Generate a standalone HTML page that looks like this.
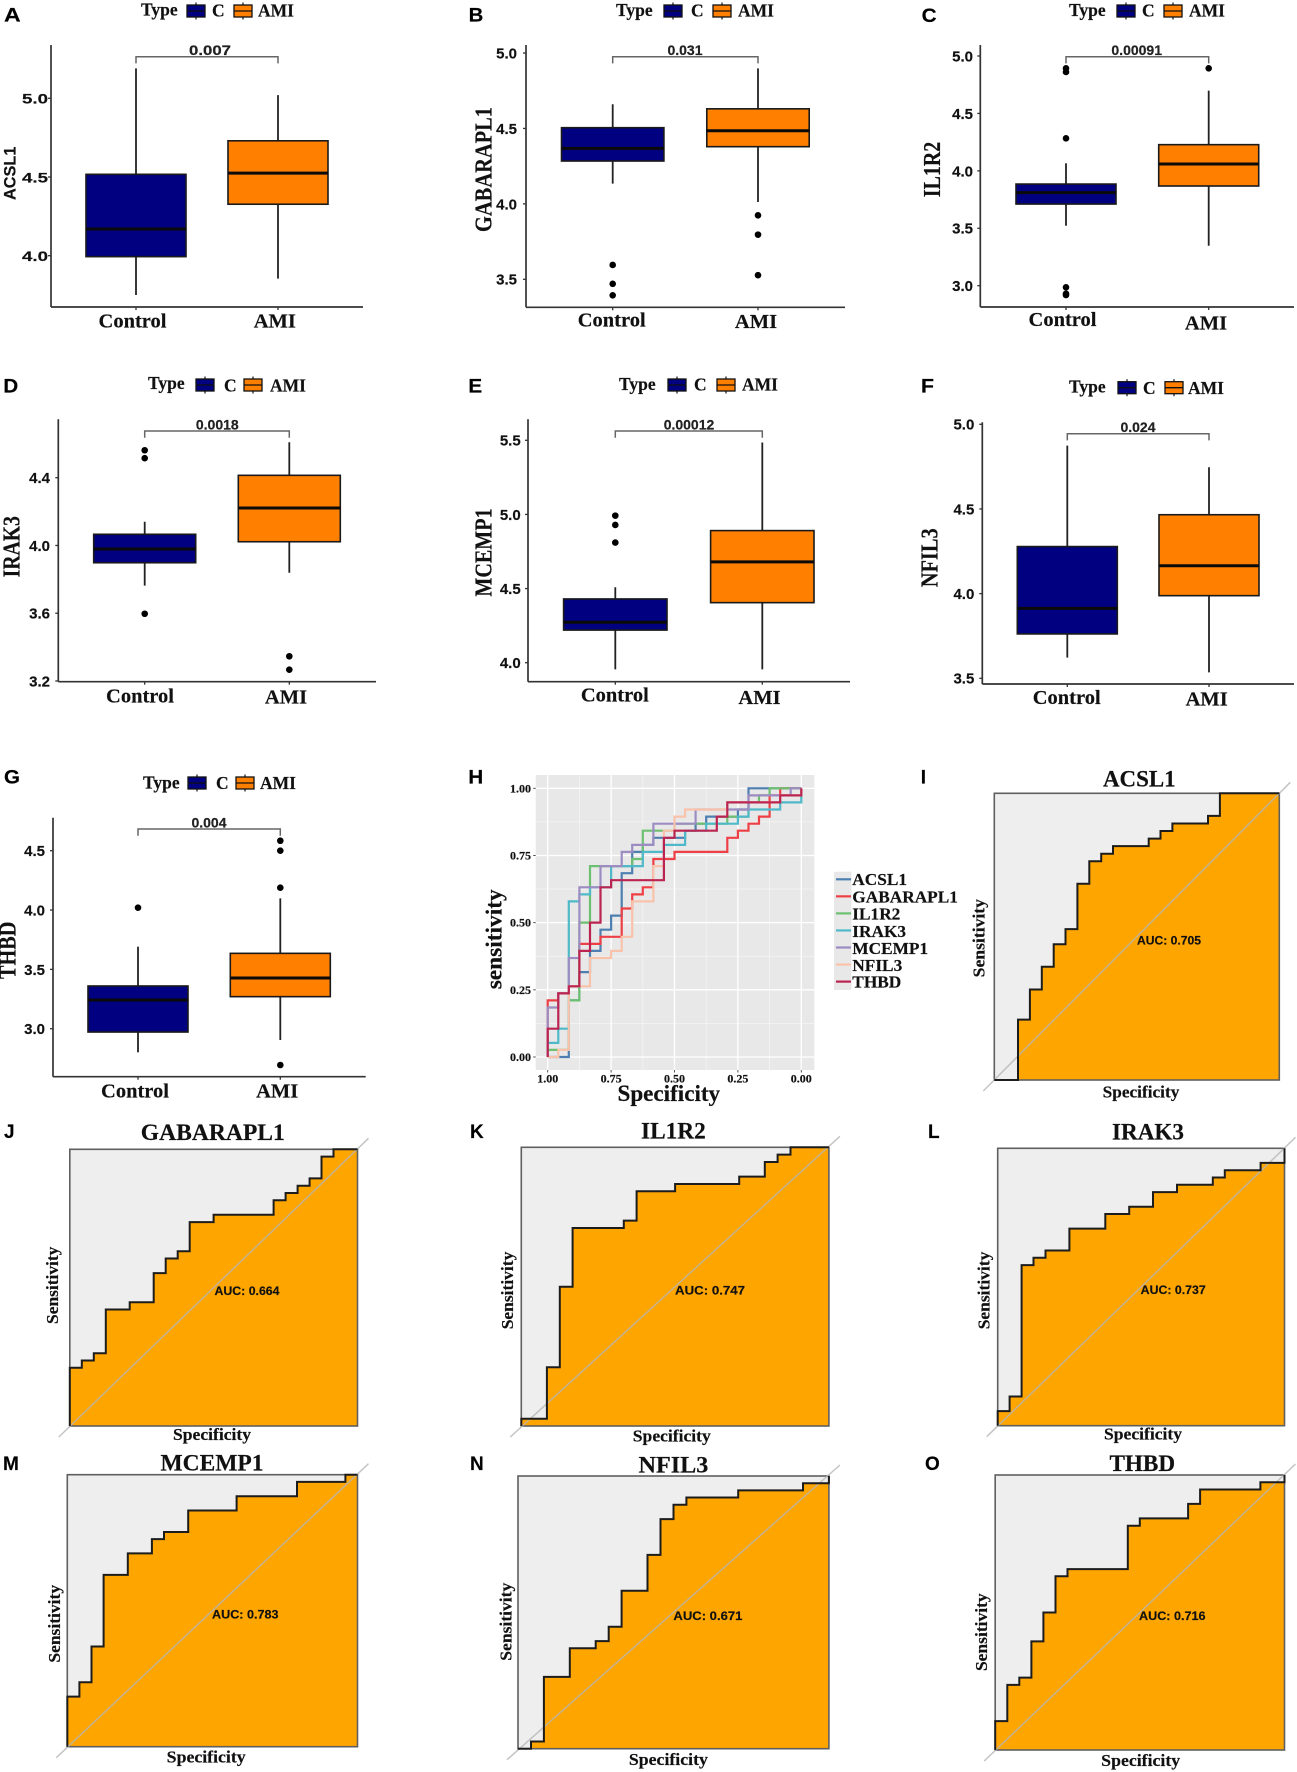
<!DOCTYPE html>
<html lang="en">
<head>
<meta charset="utf-8">
<title>Box plots and ROC curves for seven genes</title>
<style>
html,body{margin:0;padding:0;background:#fff;}
svg{display:block;}
text{fill:#111;stroke:#111;stroke-width:.18px;}
.sb{font-family:"Liberation Serif",serif;font-weight:700;}
.ab{font-family:"Liberation Sans",sans-serif;font-weight:700;}
.letter{font-size:19px;fill:#000;}
.lg{font-size:17.5px;}
.cat{font-size:20.5px;}
.yt{font-size:24px;text-anchor:middle;}
.pv{font-size:14px;text-anchor:middle;fill:#222;}
.cat{text-anchor:middle;}
.rt{font-size:23px;text-anchor:middle;}
.ra{font-size:17.3px;text-anchor:middle;}
.auc{font-size:12px;}
.hl{font-size:17.3px;}
</style>
</head>
<body>
<svg id="figure" width="1297" height="1772" viewBox="0 0 1297 1772">
<defs>
<g id="key-c"><line x1="9" y1="-8.5" x2="9" y2="8.5" stroke="#111" stroke-width="1.2"/><rect x="0" y="-6" width="18" height="12" fill="#000080" stroke="#111" stroke-width="1.3"/><line x1="0" y1="0" x2="18" y2="0" stroke="#111" stroke-width="1.3"/></g>
<g id="key-ami"><line x1="9" y1="-8.5" x2="9" y2="8.5" stroke="#111" stroke-width="1.2"/><rect x="0" y="-6" width="18" height="12" fill="#ff7f00" stroke="#111" stroke-width="1.3"/><line x1="0" y1="0" x2="18" y2="0" stroke="#111" stroke-width="1.3"/></g>
</defs>
<rect x="0" y="0" width="1297" height="1772" fill="#fff"/>
<g id="marks"></g>

<g>
<text class="ab letter" x="4" y="21.7" textLength="16.7" lengthAdjust="spacingAndGlyphs">A</text>
<text class="ab letter" x="468.7" y="21.7" textLength="14.7" lengthAdjust="spacingAndGlyphs">B</text>
<text class="ab letter" x="921.7" y="22" textLength="15" lengthAdjust="spacingAndGlyphs">C</text>
<text class="ab letter" x="3.3" y="392.3" textLength="15" lengthAdjust="spacingAndGlyphs">D</text>
<text class="ab letter" x="468.3" y="392.3" textLength="14" lengthAdjust="spacingAndGlyphs">E</text>
<text class="ab letter" x="921" y="392.7" textLength="13" lengthAdjust="spacingAndGlyphs">F</text>
<text class="ab letter" x="4" y="783.3" textLength="16" lengthAdjust="spacingAndGlyphs">G</text>
<text class="ab letter" x="468.3" y="783.3" textLength="15" lengthAdjust="spacingAndGlyphs">H</text>
<text class="ab letter" x="920.7" y="783.3">I</text>
<text class="ab letter" x="4" y="1138">J</text>
<text class="ab letter" x="470" y="1138">K</text>
<text class="ab letter" x="928" y="1138">L</text>
<text class="ab letter" x="3" y="1470">M</text>
<text class="ab letter" x="470" y="1470">N</text>
<text class="ab letter" x="925" y="1470">O</text>
</g>

<g>
<text class="sb lg" x="141" y="15.5">Type</text>
<use href="#key-c" x="187" y="11"/>
<text class="sb lg" x="212" y="16.5">C</text>
<use href="#key-ami" x="234" y="11"/>
<text class="sb lg" x="258" y="16.5">AMI</text>
</g>
<g>
<text class="sb lg" x="616" y="16">Type</text>
<use href="#key-c" x="664" y="11"/>
<text class="sb lg" x="691" y="16.5">C</text>
<use href="#key-ami" x="713" y="11"/>
<text class="sb lg" x="738" y="16.5">AMI</text>
</g>
<g>
<text class="sb lg" x="1069" y="16">Type</text>
<use href="#key-c" x="1117" y="11"/>
<text class="sb lg" x="1142" y="16.5">C</text>
<use href="#key-ami" x="1164" y="11"/>
<text class="sb lg" x="1189" y="16.5">AMI</text>
</g>
<g>
<text class="sb lg" x="148" y="389">Type</text>
<use href="#key-c" x="196" y="385"/>
<text class="sb lg" x="224" y="391.5">C</text>
<use href="#key-ami" x="244" y="385"/>
<text class="sb lg" x="270" y="391.5">AMI</text>
</g>
<g>
<text class="sb lg" x="619" y="390">Type</text>
<use href="#key-c" x="668" y="385"/>
<text class="sb lg" x="694" y="390.7">C</text>
<use href="#key-ami" x="717" y="385"/>
<text class="sb lg" x="742" y="390.7">AMI</text>
</g>
<g>
<text class="sb lg" x="1069" y="392.7">Type</text>
<use href="#key-c" x="1118" y="387.7"/>
<text class="sb lg" x="1143" y="394">C</text>
<use href="#key-ami" x="1165" y="387.7"/>
<text class="sb lg" x="1188" y="394">AMI</text>
</g>
<g>
<text class="sb lg" x="143" y="788.7">Type</text>
<use href="#key-c" x="188" y="783"/>
<text class="sb lg" x="216" y="789">C</text>
<use href="#key-ami" x="236" y="783"/>
<text class="sb lg" x="260" y="789">AMI</text>
</g>

<g>
<text class="ab" style="font-size:17px;text-anchor:middle" transform="translate(15.7,173.3) rotate(-90)" textLength="53.3" lengthAdjust="spacingAndGlyphs">ACSL1</text>
<text class="sb yt" transform="translate(491.7,169.5) rotate(-90)" textLength="125" lengthAdjust="spacingAndGlyphs">GABARAPL1</text>
<text class="sb yt" transform="translate(940,169.5) rotate(-90)" textLength="55.6" lengthAdjust="spacingAndGlyphs">IL1R2</text>
<text class="sb yt" transform="translate(19.3,546.7) rotate(-90)" textLength="61.3" lengthAdjust="spacingAndGlyphs">IRAK3</text>
<text class="sb yt" transform="translate(491.7,552.5) rotate(-90)" textLength="88.3" lengthAdjust="spacingAndGlyphs">MCEMP1</text>
<text class="sb yt" transform="translate(937.7,557.8) rotate(-90)" textLength="59" lengthAdjust="spacingAndGlyphs">NFIL3</text>
<text class="sb yt" transform="translate(15.7,950.3) rotate(-90)" textLength="57.3" lengthAdjust="spacingAndGlyphs">THBD</text>
</g>

<g>
<text class="sb cat" x="132.5" y="327.7">Control</text>
<text class="sb cat" x="274.8" y="327.7">AMI</text>
<text class="sb cat" x="611.7" y="326.7">Control</text>
<text class="sb cat" x="756" y="328">AMI</text>
<text class="sb cat" x="1062.5" y="326">Control</text>
<text class="sb cat" x="1206" y="329.3">AMI</text>
<text class="sb cat" x="140" y="702.3">Control</text>
<text class="sb cat" x="286" y="703.3">AMI</text>
<text class="sb cat" x="614.8" y="701.7">Control</text>
<text class="sb cat" x="759.5" y="704">AMI</text>
<text class="sb cat" x="1066.7" y="704">Control</text>
<text class="sb cat" x="1206.7" y="705.7">AMI</text>
<text class="sb cat" x="135" y="1097.3">Control</text>
<text class="sb cat" x="277.2" y="1097.7">AMI</text>
</g>

<g>
<text class="ab pv" x="210" y="55" textLength="42" lengthAdjust="spacingAndGlyphs">0.007</text>
<text class="ab pv" x="685" y="55">0.031</text>
<text class="ab pv" x="1136.7" y="55">0.00091</text>
<text class="ab pv" x="217.3" y="429.3">0.0018</text>
<text class="ab pv" x="689" y="429.3">0.00012</text>
<text class="ab pv" x="1138" y="432">0.024</text>
<text class="ab pv" x="209" y="827.7">0.004</text>
</g>

<g>
<text class="sb" style="font-size:23.5px;text-anchor:middle" transform="translate(501.7,939.3) rotate(-90)" textLength="100" lengthAdjust="spacingAndGlyphs">sensitivity</text>
<text class="sb" style="font-size:23px;text-anchor:middle" x="668.8" y="1101" textLength="102.6" lengthAdjust="spacingAndGlyphs">Specificity</text>
<text class="sb hl" x="852.3" y="885">ACSL1</text>
<text class="sb hl" x="852.3" y="902.5">GABARAPL1</text>
<text class="sb hl" x="852.3" y="919.5">IL1R2</text>
<text class="sb hl" x="852.3" y="937">IRAK3</text>
<text class="sb hl" x="852.3" y="954">MCEMP1</text>
<text class="sb hl" x="852.3" y="971">NFIL3</text>
<text class="sb hl" x="852.3" y="987.5">THBD</text>
</g>

<g>
<text class="sb rt" x="1139.3" y="786.7" textLength="72.7" lengthAdjust="spacingAndGlyphs">ACSL1</text>
<text class="sb rt" x="212.8" y="1140" textLength="144" lengthAdjust="spacingAndGlyphs">GABARAPL1</text>
<text class="sb rt" x="673.4" y="1138.3" textLength="64.8" lengthAdjust="spacingAndGlyphs">IL1R2</text>
<text class="sb rt" x="1148" y="1139.3" textLength="72" lengthAdjust="spacingAndGlyphs">IRAK3</text>
<text class="sb rt" x="212" y="1470.7" textLength="103" lengthAdjust="spacingAndGlyphs">MCEMP1</text>
<text class="sb rt" x="673.4" y="1472.7" textLength="69.8" lengthAdjust="spacingAndGlyphs">NFIL3</text>
<text class="sb rt" x="1142.3" y="1471" textLength="65.7" lengthAdjust="spacingAndGlyphs">THBD</text>

<text class="sb ra" transform="translate(984.3,938.2) rotate(-90)" textLength="78.3" lengthAdjust="spacingAndGlyphs">Sensitivity</text>
<text class="sb ra" transform="translate(58.2,1285.3) rotate(-90)" textLength="77.3" lengthAdjust="spacingAndGlyphs">Sensitivity</text>
<text class="sb ra" transform="translate(513,1290.5) rotate(-90)" textLength="77.6" lengthAdjust="spacingAndGlyphs">Sensitivity</text>
<text class="sb ra" transform="translate(989.4,1290.5) rotate(-90)" textLength="77.6" lengthAdjust="spacingAndGlyphs">Sensitivity</text>
<text class="sb ra" transform="translate(59.9,1623.8) rotate(-90)" textLength="77.7" lengthAdjust="spacingAndGlyphs">Sensitivity</text>
<text class="sb ra" transform="translate(511.3,1621.7) rotate(-90)" textLength="78" lengthAdjust="spacingAndGlyphs">Sensitivity</text>
<text class="sb ra" transform="translate(986.9,1632.2) rotate(-90)" textLength="77.7" lengthAdjust="spacingAndGlyphs">Sensitivity</text>

<text class="sb ra" x="1141" y="1097.3" textLength="76.7" lengthAdjust="spacingAndGlyphs">Specificity</text>
<text class="sb ra" x="212" y="1440" textLength="78" lengthAdjust="spacingAndGlyphs">Specificity</text>
<text class="sb ra" x="671.8" y="1441.7" textLength="78" lengthAdjust="spacingAndGlyphs">Specificity</text>
<text class="sb ra" x="1143" y="1439.3" textLength="78" lengthAdjust="spacingAndGlyphs">Specificity</text>
<text class="sb ra" x="206.2" y="1762.7" textLength="79" lengthAdjust="spacingAndGlyphs">Specificity</text>
<text class="sb ra" x="668.4" y="1765" textLength="79" lengthAdjust="spacingAndGlyphs">Specificity</text>
<text class="sb ra" x="1140.7" y="1766" textLength="79" lengthAdjust="spacingAndGlyphs">Specificity</text>

<text class="ab auc" x="1137" y="944.3" textLength="64" lengthAdjust="spacingAndGlyphs">AUC: 0.705</text>
<text class="ab auc" x="214.5" y="1295" textLength="65" lengthAdjust="spacingAndGlyphs">AUC: 0.664</text>
<text class="ab auc" x="675" y="1294.3" textLength="70" lengthAdjust="spacingAndGlyphs">AUC: 0.747</text>
<text class="ab auc" x="1140.7" y="1294" textLength="65" lengthAdjust="spacingAndGlyphs">AUC: 0.737</text>
<text class="ab auc" x="212" y="1618.3" textLength="66.5" lengthAdjust="spacingAndGlyphs">AUC: 0.783</text>
<text class="ab auc" x="673.4" y="1620" textLength="69" lengthAdjust="spacingAndGlyphs">AUC: 0.671</text>
<text class="ab auc" x="1139" y="1620" textLength="66.5" lengthAdjust="spacingAndGlyphs">AUC: 0.716</text>
</g>
</svg>

<script>
/* ---------- box plot data: [low whisker, Q1, median, Q3, high whisker] ---------- */
const categories = ['Control', 'AMI'];

const acsl1Control = [3.75, 3.994, 4.17, 4.517, 5.19];
const acsl1Ami = [3.854, 4.327, 4.525, 4.73, 5.02];
const acsl1ControlOutliers = [];
const acsl1AmiOutliers = [];
const acsl1Ticks = [4.0, 4.5, 5.0];

const gabarapl1Control = [4.134, 4.284, 4.368, 4.505, 4.66];
const gabarapl1Ami = [4.012, 4.379, 4.485, 4.63, 4.898];
const gabarapl1ControlOutliers = [3.595, 3.47, 3.394];
const gabarapl1AmiOutliers = [3.924, 3.796, 3.527];
const gabarapl1Ticks = [3.5, 4.0, 4.5, 5.0];

const il1r2Control = [3.522, 3.711, 3.81, 3.885, 4.066];
const il1r2Ami = [3.348, 3.868, 4.06, 4.228, 4.698];
const il1r2ControlOutliers = [4.893, 4.861, 4.283, 2.986, 2.919, 2.93];
const il1r2AmiOutliers = [4.893];
const il1r2Ticks = [3.0, 3.5, 4.0, 4.5, 5.0];

const irak3Control = [3.763, 3.898, 3.979, 4.066, 4.14];
const irak3Ami = [3.839, 4.022, 4.221, 4.414, 4.609];
const irak3ControlOutliers = [4.562, 4.515, 3.597];
const irak3AmiOutliers = [3.346, 3.267];
const irak3Ticks = [3.2, 3.6, 4.0, 4.4];

const mcemp1Control = [3.955, 4.22, 4.273, 4.43, 4.509];
const mcemp1Ami = [3.955, 4.405, 4.68, 4.891, 5.485];
const mcemp1ControlOutliers = [4.992, 4.929, 4.81];
const mcemp1AmiOutliers = [];
const mcemp1Ticks = [4.0, 4.5, 5.0, 5.5];

const nfil3Control = [3.622, 3.762, 3.913, 4.278, 4.874];
const nfil3Ami = [3.535, 3.988, 4.165, 4.466, 4.746];
const nfil3ControlOutliers = [];
const nfil3AmiOutliers = [];
const nfil3Ticks = [3.5, 4.0, 4.5, 5.0];

const thbdControl = [2.801, 2.972, 3.242, 3.36, 3.691];
const thbdAmi = [2.905, 3.27, 3.427, 3.635, 4.098];
const thbdControlOutliers = [4.02];
const thbdAmiOutliers = [4.584, 4.5, 4.188, 2.694];
const thbdTicks = [3.0, 3.5, 4.0, 4.5];

/* ---------- ROC data: cumulative false positives / true positives at each step ---------- */
const controlCount = 24;
const caseCount = 38;

const acsl1FalsePos = [0, 2, 3, 4, 5, 6, 7, 8, 9, 10, 13, 14, 15, 18, 19, 24];
const acsl1TruePos = [0, 8, 12, 15, 18, 20, 26, 29, 30, 31, 32, 33, 34, 35, 38, 38];

const gabarapl1FalsePos = [0, 0, 1, 2, 3, 5, 7, 8, 9, 10, 12, 17, 18, 19, 20, 21, 22, 24];
const gabarapl1TruePos = [0, 8, 9, 10, 16, 17, 21, 23, 24, 28, 29, 31, 32, 33, 34, 37, 38, 38];

const il1r2FalsePos = [0, 0, 2, 3, 4, 8, 9, 12, 17, 19, 20, 21, 24];
const il1r2TruePos = [0, 1, 8, 19, 27, 28, 32, 33, 34, 36, 37, 38, 38];

const irak3FalsePos = [0, 0, 1, 2, 3, 4, 6, 9, 11, 13, 15, 18, 19, 22, 24];
const irak3TruePos = [0, 2, 4, 22, 23, 24, 27, 29, 30, 32, 33, 34, 35, 36, 38];

const mcemp1FalsePos = [0, 0, 1, 2, 3, 5, 7, 8, 10, 14, 19, 23, 24];
const mcemp1TruePos = [0, 7, 9, 14, 24, 27, 29, 30, 33, 35, 37, 38, 38];

const nfil3FalsePos = [0, 1, 2, 4, 6, 7, 8, 10, 11, 12, 13, 17, 22, 24];
const nfil3TruePos = [0, 1, 10, 14, 15, 17, 22, 27, 32, 34, 35, 36, 37, 38];

const thbdFalsePos = [0, 0, 1, 2, 3, 4, 5, 6, 11, 12, 16, 17, 22, 24];
const thbdTruePos = [0, 4, 9, 10, 15, 19, 24, 25, 31, 32, 34, 36, 37, 38];

const combinedXTicks = [1.00, 0.75, 0.50, 0.25, 0.00];
const combinedYTicks = [0.00, 0.25, 0.50, 0.75, 1.00];

/* ---------- layout ---------- */
const boxPanels = [
  {gene:'acsl1', control:acsl1Control, ami:acsl1Ami, controlOut:acsl1ControlOutliers, amiOut:acsl1AmiOutliers, ticks:acsl1Ticks,
   axX:51, axY:307, axTop:45, axEnd:363, v1:4, py1:255.7, v2:5, py2:98.3, c1:136, c2:278, hw:50, brY:56.7, tickRight:48, tickSize:14, tickLen:26},
  {gene:'gabarapl1', control:gabarapl1Control, ami:gabarapl1Ami, controlOut:gabarapl1ControlOutliers, amiOut:gabarapl1AmiOutliers, ticks:gabarapl1Ticks,
   axX:526, axY:307.3, axTop:45, axEnd:845, v1:3.5, py1:279.3, v2:5, py2:53, c1:612.7, c2:758, hw:51.2, brY:56.7, tickRight:517, tickSize:15},
  {gene:'il1r2', control:il1r2Control, ami:il1r2Ami, controlOut:il1r2ControlOutliers, amiOut:il1r2AmiOutliers, ticks:il1r2Ticks,
   axX:980.3, axY:307, axTop:45, axEnd:1294, v1:3, py1:285.7, v2:5, py2:56, c1:1066, c2:1208.7, hw:50, brY:56.7, tickRight:973, tickSize:15},
  {gene:'irak3', control:irak3Control, ami:irak3Ami, controlOut:irak3ControlOutliers, amiOut:irak3AmiOutliers, ticks:irak3Ticks,
   axX:58.3, axY:681.7, axTop:419.3, axEnd:376, v1:3.2, py1:681, v2:4.4, py2:477.7, c1:144.7, c2:289.3, hw:51, brY:431, tickRight:50, tickSize:15},
  {gene:'mcemp1', control:mcemp1Control, ami:mcemp1Ami, controlOut:mcemp1ControlOutliers, amiOut:mcemp1AmiOutliers, ticks:mcemp1Ticks,
   axX:528, axY:681.7, axTop:419.3, axEnd:850, v1:4, py1:662.7, v2:5.5, py2:440.3, c1:615.3, c2:762.3, hw:51.7, brY:431, tickRight:520.7, tickSize:15},
  {gene:'nfil3', control:nfil3Control, ami:nfil3Ami, controlOut:nfil3ControlOutliers, amiOut:nfil3AmiOutliers, ticks:nfil3Ticks,
   axX:982.3, axY:684, axTop:422.3, axEnd:1294, v1:3.5, py1:678.3, v2:5, py2:424.3, c1:1067.3, c2:1209, hw:50, brY:433.7, tickRight:974.3, tickSize:15},
  {gene:'thbd', control:thbdControl, ami:thbdAmi, controlOut:thbdControlOutliers, amiOut:thbdAmiOutliers, ticks:thbdTicks,
   axX:53, axY:1076.7, axTop:817.7, axEnd:365.7, v1:3, py1:1028.7, v2:4.5, py2:850.7, c1:138, c2:280.3, hw:50, brY:829, tickRight:45, tickSize:15}
];

const rocPanels = [
  {gene:'acsl1', fp:acsl1FalsePos, tp:acsl1TruePos, x0:994.3, x1:1279.3, yt:793.3, yb:1080},
  {gene:'gabarapl1', fp:gabarapl1FalsePos, tp:gabarapl1TruePos, x0:69.8, x1:357.5, yt:1149.3, yb:1426},
  {gene:'il1r2', fp:il1r2FalsePos, tp:il1r2TruePos, x0:521.3, x1:828.9, yt:1147.3, yb:1426},
  {gene:'irak3', fp:irak3FalsePos, tp:irak3TruePos, x0:997.7, x1:1284.5, yt:1148.3, yb:1425.7},
  {gene:'mcemp1', fp:mcemp1FalsePos, tp:mcemp1TruePos, x0:67.3, x1:357.5, yt:1474.7, yb:1746.7},
  {gene:'nfil3', fp:nfil3FalsePos, tp:nfil3TruePos, x0:518, x1:828.9, yt:1476, yb:1748.7},
  {gene:'thbd', fp:thbdFalsePos, tp:thbdTruePos, x0:995.2, x1:1284.5, yt:1475, yb:1750}
];

const combinedCurves = [
  {gene:'acsl1', fp:acsl1FalsePos, tp:acsl1TruePos, color:'#4d7fb0'},
  {gene:'gabarapl1', fp:gabarapl1FalsePos, tp:gabarapl1TruePos, color:'#ee3f45'},
  {gene:'il1r2', fp:il1r2FalsePos, tp:il1r2TruePos, color:'#6cc070'},
  {gene:'irak3', fp:irak3FalsePos, tp:irak3TruePos, color:'#4fb9c9'},
  {gene:'mcemp1', fp:mcemp1FalsePos, tp:mcemp1TruePos, color:'#9c8cc2'},
  {gene:'nfil3', fp:nfil3FalsePos, tp:nfil3TruePos, color:'#f9c2ab'},
  {gene:'thbd', fp:thbdFalsePos, tp:thbdTruePos, color:'#bb2450'}
];

const NS = document.getElementById('figure').namespaceURI;
const marks = document.getElementById('marks');

function mk(tag, attrs, parent) {
  const node = document.createElementNS(NS, tag);
  for (const k in attrs) node.setAttribute(k, attrs[k]);
  parent.appendChild(node);
  return node;
}

/* Expand step data into [specificity, sensitivity] vertices */
function stepVertices(fp, tp) {
  const pts = [[1 - fp[0] / controlCount, tp[0] / caseCount]];
  for (let i = 0; i + 1 < fp.length; i++) {
    pts.push([1 - fp[i + 1] / controlCount, tp[i] / caseCount]);
    pts.push([1 - fp[i + 1] / controlCount, tp[i + 1] / caseCount]);
  }
  return pts;
}

/* ---------- box plots ---------- */
boxPanels.forEach(function (p) {
  const yScale = function (v) { return p.py1 + (v - p.v1) * (p.py2 - p.py1) / (p.v2 - p.v1); };
  const g = mk('g', {}, marks);
  
  

  const yAxis = mk('line', {x1:p.axX, y1:p.axTop, x2:p.axX, y2:p.axY, stroke:'#333', 'stroke-width':1.7}, g);
  
  
  const xAxis = mk('line', {x1:p.axX, y1:p.axY, x2:p.axEnd, y2:p.axY, stroke:'#333', 'stroke-width':1.7}, g);
  
  

  p.ticks.forEach(function (t) {
    const tick = mk('line', {x1:p.axX - 3, y1:yScale(t), x2:p.axX, y2:yScale(t), stroke:'#333', 'stroke-width':1.3}, g);
    
    
    const label = mk('text', {x:p.tickRight, y:yScale(t) + 5.4, 'text-anchor':'end', 'class':'ab'}, g);
    
    
    label.setAttribute('style', 'font-size:' + p.tickSize + 'px');
    if (p.tickLen) {
      label.setAttribute('textLength', p.tickLen);
      label.setAttribute('lengthAdjust', 'spacingAndGlyphs');
    }
    label.textContent = t.toFixed(1);
  });

  const bracket = mk('path', {d:'M' + p.c1 + ' ' + (p.brY + 6.7) + 'V' + p.brY + 'H' + p.c2 + 'V' + (p.brY + 6.7), fill:'none', stroke:'#666', 'stroke-width':1.5}, g);
  
  

  const groups = [
    {name:categories[0], stats:p.control, out:p.controlOut, cx:p.c1, fill:'#000080'},
    {name:categories[1], stats:p.ami, out:p.amiOut, cx:p.c2, fill:'#ff7f00'}
  ];
  groups.forEach(function (b) {
    const xt = mk('line', {x1:b.cx, y1:p.axY, x2:b.cx, y2:p.axY + 3, stroke:'#333', 'stroke-width':1.3}, g);
    
    

    const whisker = mk('line', {x1:b.cx, y1:yScale(b.stats[4]), x2:b.cx, y2:yScale(b.stats[0]), stroke:'#222', 'stroke-width':1.8}, g);
    
    

    const box = mk('rect', {x:b.cx - p.hw, y:yScale(b.stats[3]), width:p.hw * 2, height:yScale(b.stats[1]) - yScale(b.stats[3]), fill:b.fill, stroke:'#1a1a1a', 'stroke-width':1.6}, g);
    
    

    const median = mk('line', {x1:b.cx - p.hw, y1:yScale(b.stats[2]), x2:b.cx + p.hw, y2:yScale(b.stats[2]), stroke:'#0a0a0a', 'stroke-width':3}, g);
    
    

    b.out.forEach(function (v) {
      const dot = mk('circle', {cx:b.cx, cy:yScale(v), r:3.3, fill:'#000'}, g);
      
      
    });
  });
});

/* ---------- combined ROC ---------- */
(function () {
  const xH = function (spec) { return 547.7 + (1 - spec) * 253.6; };
  const yH = function (sens) { return 1057 - sens * 268.7; };
  const g = mk('g', {}, marks);
  
  

  const bg = mk('rect', {x:535.7, y:775, width:278.6, height:295, fill:'#e8e8e8'}, g);
  
  

  combinedXTicks.slice(0, -1).forEach(function (t) {
    const minorX = mk('line', {x1:xH(t - 0.125), y1:775, x2:xH(t - 0.125), y2:1070, stroke:'#f4f4f4', 'stroke-width':0.8}, g);
    
    
  });
  combinedYTicks.slice(0, -1).forEach(function (t) {
    const minorY = mk('line', {x1:535.7, y1:yH(t + 0.125), x2:814.3, y2:yH(t + 0.125), stroke:'#f4f4f4', 'stroke-width':0.8}, g);
    
    
  });
  combinedXTicks.forEach(function (t) {
    const gridX = mk('line', {x1:xH(t), y1:775, x2:xH(t), y2:1070, stroke:'#fff', 'stroke-width':1.3}, g);
    
    
    const tickX = mk('line', {x1:xH(t), y1:1070, x2:xH(t), y2:1072.5, stroke:'#444', 'stroke-width':0.9}, g);
    
    
    const labelX = mk('text', {x:xH(t), y:1082.3, 'text-anchor':'middle', 'class':'sb'}, g);
    
    
    labelX.setAttribute('style', 'font-size:12px');
    labelX.textContent = t.toFixed(2);
  });
  combinedYTicks.forEach(function (t) {
    const gridY = mk('line', {x1:535.7, y1:yH(t), x2:814.3, y2:yH(t), stroke:'#fff', 'stroke-width':1.3}, g);
    
    
    const tickY = mk('line', {x1:533.2, y1:yH(t), x2:535.7, y2:yH(t), stroke:'#444', 'stroke-width':0.9}, g);
    
    
    const labelY = mk('text', {x:531, y:yH(t) + 4, 'text-anchor':'end', 'class':'sb'}, g);
    
    
    labelY.setAttribute('style', 'font-size:12px');
    labelY.textContent = t.toFixed(2);
  });

  combinedCurves.forEach(function (c) {
    const pts = stepVertices(c.fp, c.tp).map(function (q) { return xH(q[0]).toFixed(1) + ',' + yH(q[1]).toFixed(1); }).join(' ');
    const line = mk('polyline', {points:pts, fill:'none', stroke:c.color, 'stroke-width':2.2, 'stroke-linejoin':'miter'}, g);
    
    
  });

  const keyBg = mk('rect', {x:834, y:871.7, width:17.5, height:118.3, fill:'#e8e8e8'}, g);
  
  
  combinedCurves.forEach(function (c, i) {
    const keyY = 879.3 + i * 17.05;
    const key = mk('line', {x1:836, y1:keyY, x2:851, y2:keyY, stroke:c.color, 'stroke-width':2.2}, g);
    
    
  });
})();

/* ---------- individual ROC panels ---------- */
rocPanels.forEach(function (p) {
  const xR = function (spec) { return p.x0 + (1 - spec) * (p.x1 - p.x0); };
  const yR = function (sens) { return p.yb - sens * (p.yb - p.yt); };
  const g = mk('g', {}, marks);
  
  

  const bg = mk('rect', {x:p.x0, y:p.yt, width:p.x1 - p.x0, height:p.yb - p.yt, fill:'#eeeeee'}, g);
  
  

  const verts = stepVertices(p.fp, p.tp);
  const coords = verts.map(function (q) { return xR(q[0]).toFixed(1) + ',' + yR(q[1]).toFixed(1); });
  const area = mk('polygon', {points:coords.join(' ') + ' ' + xR(0) + ',' + yR(0), fill:'#ffa500'}, g);
  
  

  const frame = mk('rect', {x:p.x0, y:p.yt, width:p.x1 - p.x0, height:p.yb - p.yt, fill:'none', stroke:'#5f5f5f', 'stroke-width':1.6}, g);
  
  

  const diag = mk('line', {x1:p.x0 - 11, y1:p.yb + 11, x2:p.x1 + 11, y2:p.yt - 11, stroke:'#b5b5b5', 'stroke-width':1.5, 'stroke-opacity':0.8}, g);
  
  

  const curve = mk('polyline', {points:coords.join(' '), fill:'none', stroke:'#1c1c1c', 'stroke-width':2}, g);
  
  
});
</script>
</body>
</html>
